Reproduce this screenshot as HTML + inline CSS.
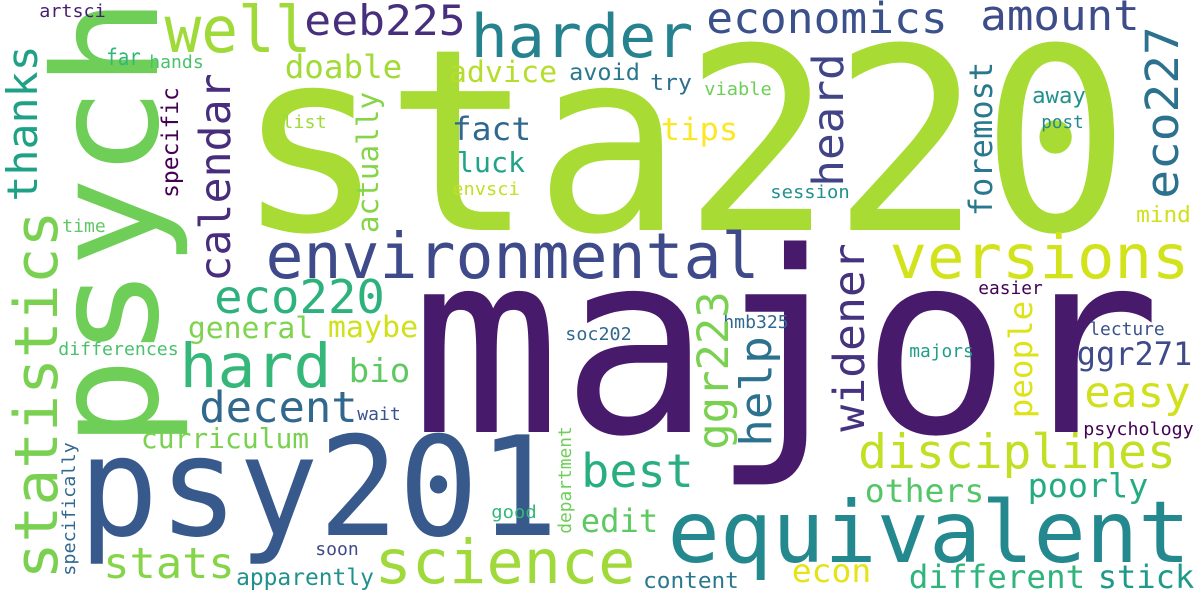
<!DOCTYPE html>
<html><head><meta charset="utf-8"><style>
html,body{margin:0;padding:0;background:#fff;}
svg{display:block;}
text{font-family:"DejaVu Sans Mono","Liberation Mono",monospace;}
</style></head><body>
<svg id="cloud" width="1200" height="600" viewBox="0 0 1200 600" xmlns="http://www.w3.org/2000/svg">
<rect width="1200" height="600" fill="#ffffff"/>
</svg>
<script>
// [text, start, baseline, fontSize, end, color, rotated]
// horizontal: start=x0, end=x1 ; rotated: baseline=x, start=bottom y, end=top y
const words = [
["sta220",246,230,254,1120,"#a8db34",0],
["major",421,432,252,1151,"#481a6c",0],
["psych",157,442,145,3,"#6ece58",1],
["psy201",84,535,138,553,"#38598c",0],
["artsci",40,17,18,105,"#481f70",0],
["well",167,52,64,309,"#a0da39",0],
["thanks",37,200,42,47,"#1fa187",1],
["far",107,65,23,140,"#35b779",0],
["hands",150,68,18,203,"#4ac16d",0],
["calendar",230,280,43,75,"#472d7b",1],
["specific",178,197,23,88,"#440154",1],
["time",63,232,18,105,"#5ec962",0],
["statistics",57,577,60,213,"#7ad151",1],
["specifically",75,575,18,443,"#31688e",1],
["differences",59,355,18,178,"#4ac16d",0],
["eeb225",306,35,42,464,"#472f7d",0],
["harder",473,57,60,691,"#26828e",0],
["economics",708,33,43,946,"#3b518b",0],
["amount",982,30,42,1138,"#3e4c8a",0],
["doable",286,78,32,401,"#a2da37",0],
["advice",450,82,29,556,"#b5de2b",0],
["avoid",570,80,23,639,"#2a788e",0],
["try",651,90,22,691,"#2d708e",0],
["viable",705,95,18,771,"#6ece58",0],
["list",283,128,18,326,"#a0da39",0],
["actually",378,232,29,93,"#86d549",1],
["fact",453,140,32,530,"#31688e",0],
["luck",458,172,28,524,"#20a386",0],
["envsci",453,195,18,519,"#c2df23",0],
["tips",662,140,31,737,"#fde725",0],
["heard",843,185,43,55,"#414487",1],
["session",771,198,18,849,"#21918c",0],
["foremost",992,215,32,63,"#2a788e",1],
["away",1033,103,22,1085,"#21918c",0],
["post",1042,128,18,1083,"#23898e",0],
["mind",1137,222,22,1190,"#d0e11c",0],
["eco227",1178,197,45,28,"#2c728e",1],
["versions",892,278,61,1187,"#d2e21b",0],
["environmental",268,278,63,757,"#3e4a89",0],
["easier",979,294,18,1042,"#440154",0],
["eco220",216,313,46,383,"#2db27d",0],
["general",189,338,29,312,"#7fd34e",0],
["maybe",329,337,29,417,"#d0e11c",0],
["hard",182,387,61,329,"#35b779",0],
["bio",350,382,33,409,"#5ec962",0],
["decent",201,422,43,356,"#31688e",0],
["wait",358,420,18,400,"#3b528b",0],
["curriculum",142,448,28,308,"#7ad151",0],
["stats",105,578,43,233,"#86d549",0],
["apparently",237,585,23,373,"#21918c",0],
["soon",316,555,18,358,"#3e4a89",0],
["science",377,583,61,633,"#9fda3a",0],
["good",492,518,18,536,"#35b779",0],
["department",571,533,18,427,"#6ece58",1],
["best",583,487,46,692,"#29af7f",0],
["edit",582,532,32,657,"#5ec962",0],
["econ",793,582,32,870,"#e5e419",0],
["content",644,588,22,738,"#2a788e",0],
["equivalent",671,562,86,1187,"#23898e",0],
["different",910,588,32,1084,"#2fb47c",0],
["stick",1099,588,32,1193,"#1f9a8a",0],
["others",866,502,32,983,"#54c568",0],
["poorly",1029,497,33,1147,"#25ab82",0],
["disciplines",860,468,47,1174,"#c2df23",0],
["psychology",1084,435,18,1193,"#440154",0],
["easy",1086,407,43,1189,"#d0e11c",0],
["ggr271",1078,365,32,1191,"#3e4a89",0],
["lecture",1090,335,18,1164,"#3b528b",0],
["majors",910,357,18,973,"#1f9e89",0],
["hmb325",724,328,18,788,"#31688e",0],
["soc202",566,340,18,631,"#31688e",0],
["ggr223",728,448,43,293,"#7ad151",1],
["help",771,445,44,338,"#2c728e",1],
["widener",864,430,43,245,"#46337f",1],
["people",1032,417,32,302,"#dde318",1]
];
const svg = document.getElementById('cloud');
const NS = 'http://www.w3.org/2000/svg';
words.forEach(w => {
  const [txt, a, b, fs, e, col, rot] = words[words.indexOf(w)];
  const t = document.createElementNS(NS, 'text');
  
  
  t.setAttribute('font-size', fs);
  t.setAttribute('fill', col);
  const pad = 0.08 * fs;
  if (!rot) {
    t.setAttribute('x', a - pad / 2);
    t.setAttribute('y', b);
    t.setAttribute('textLength', (e - a) + pad);
  } else {
    t.setAttribute('transform', 'translate(' + a + ',' + (b + pad / 2) + ') rotate(-90)');
    t.setAttribute('x', 0);
    t.setAttribute('y', 0);
    t.setAttribute('textLength', (b - e) + pad);
  }
  t.setAttribute('lengthAdjust', 'spacingAndGlyphs');
  t.textContent = txt;
  svg.appendChild(t);
});
</script>
</body></html>
